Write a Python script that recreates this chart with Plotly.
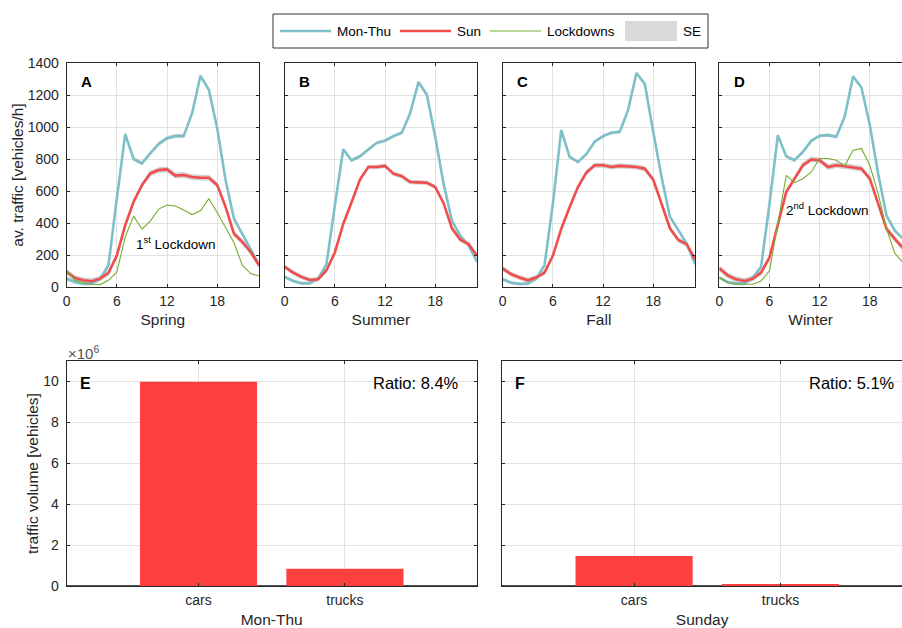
import plotly.graph_objects as go

W, H = 902, 628

hours = list(range(24))
seasons = ["Spring", "Summer", "Fall", "Winter"]
panel_letters = ["A", "B", "C", "D"]

# Mon-Thu average hourly traffic [vehicles/h]
mt_spring = [52, 31, 21, 21, 52, 136, 555, 955, 800, 773, 836, 894, 930, 944, 944, 1087, 1320, 1233, 993, 669, 428, 334, 240, 140]
mt_summer = [63, 38, 23, 23, 52, 143, 510, 861, 792, 817, 859, 901, 914, 943, 964, 1086, 1281, 1201, 939, 646, 415, 321, 258, 159]
mt_fall   = [48, 27, 19, 21, 52, 136, 520, 981, 813, 782, 830, 908, 943, 964, 970, 1107, 1337, 1268, 970, 687, 440, 352, 272, 143]
mt_winter = [59, 31, 21, 21, 59, 126, 520, 949, 817, 792, 845, 914, 945, 949, 939, 1065, 1316, 1247, 1012, 708, 446, 352, 300, 200]

# Sunday average hourly traffic [vehicles/h]
sun_spring = [94, 56, 42, 36, 52, 88, 198, 387, 533, 637, 710, 731, 735, 696, 700, 687, 683, 683, 637, 501, 334, 282, 219, 136]
sun_summer = [126, 90, 63, 44, 48, 105, 216, 394, 530, 671, 750, 750, 757, 708, 692, 656, 654, 652, 625, 524, 367, 296, 268, 195]
sun_fall   = [115, 80, 59, 42, 59, 90, 195, 363, 499, 625, 715, 761, 761, 750, 757, 755, 750, 740, 671, 520, 367, 294, 268, 174]
sun_winter = [117, 73, 48, 38, 52, 90, 184, 394, 593, 677, 761, 797, 792, 750, 761, 755, 746, 740, 677, 524, 363, 300, 247, 184]

# Lockdown Mon-Thu traffic [vehicles/h] (spring: 1st, winter: 2nd lockdown)
lock_spring = [104, 42, 25, 17, 15, 42, 94, 313, 443, 361, 412, 487, 512, 506, 481, 453, 476, 552, 466, 376, 278, 136, 84, 69]
lock_winter = [59, 27, 17, 17, 17, 38, 101, 394, 698, 652, 677, 719, 803, 803, 792, 757, 855, 866, 761, 583, 363, 210, 150, 120]

# standard error half-widths [vehicles/h]
se_mt = [12, 10, 10, 10]
se_sun = [18, 14, 16, 18]

mt_all = [mt_spring, mt_summer, mt_fall, mt_winter]
sun_all = [sun_spring, sun_summer, sun_fall, sun_winter]
lock_all = [lock_spring, None, None, lock_winter]
lock_labels = ["1<sup>st</sup> Lockdown", None, None, "2<sup>nd</sup> Lockdown"]

# Traffic volume [vehicles]
vehicle_types = ["cars", "trucks"]
vol_monthu = [9.98e6, 0.84e6]
vol_sunday = [1.47e6, 0.075e6]
ratios = ["Ratio: 8.4%", "Ratio: 5.1%"]
bar_xlabels = ["Mon-Thu", "Sunday"]
bar_letters = ["E", "F"]

C_MT = "#7DC0C8"
C_SUN = "#F24D4D"
C_LOCK = "#77AC30"
C_BAR = "#FF4040"
C_SE = "rgba(140,140,140,0.40)"
C_AX = "#262626"
C_GRID = "#E2E2E2"
FONT = "Liberation Sans, Arial, sans-serif"
TICK = 14
TITLE = 15.5


def fx(p):
    return p / W


def fy(p):
    return 1 - p / H


top_x = [(66.7, 259.0), (284.7, 477.0), (502.7, 695.0), (719.3, 902.0)]
top_y = (63.0, 287.0)
hr_px = (259.0 - 66.7) / 23.0
bot_x = [(66.7, 476.7), (502.3, 902.0)]
bot_y = (361.0, 586.0)
cat_px = (476.7 - 66.7) / 2.8

fig = go.Figure()
layout = dict(
    template="none",
    width=W, height=H, margin=dict(l=0, r=0, t=0, b=0, autoexpand=False),
    paper_bgcolor="white", plot_bgcolor="white", showlegend=False,
    font=dict(family=FONT, color=C_AX, size=13),
)

annotations = []
shapes = []

for i, s in enumerate(seasons):
    n = i + 1
    xa = "x" if n == 1 else f"x{n}"
    ya = "y" if n == 1 else f"y{n}"
    mt = mt_all[i]
    sun = sun_all[i]
    # SE bands
    for series, se in ((mt, se_mt[i]), (sun, se_sun[i])):
        fig.add_trace(go.Scatter(x=hours, y=[v - se for v in series], mode="lines",
                                 line=dict(width=0, color=C_SE), xaxis=xa, yaxis=ya,
                                 hoverinfo="skip"))
        fig.add_trace(go.Scatter(x=hours, y=[v + se for v in series], mode="lines",
                                 line=dict(width=0, color=C_SE), fill="tonexty",
                                 fillcolor=C_SE, xaxis=xa, yaxis=ya, hoverinfo="skip"))
    fig.add_trace(go.Scatter(x=hours, y=mt, mode="lines", line=dict(color=C_MT, width=2.6),
                             xaxis=xa, yaxis=ya, name="Mon-Thu"))
    fig.add_trace(go.Scatter(x=hours, y=sun, mode="lines", line=dict(color=C_SUN, width=2.6),
                             xaxis=xa, yaxis=ya, name="Sun"))
    if lock_all[i] is not None:
        fig.add_trace(go.Scatter(x=hours, y=lock_all[i], mode="lines",
                                 line=dict(color=C_LOCK, width=1.1),
                                 xaxis=xa, yaxis=ya, name="Lockdowns"))
    x0, x1 = top_x[i]
    xmax = (x1 - x0) / hr_px
    cut = x1 >= W
    layout[f"xaxis{'' if n == 1 else n}"] = dict(
        domain=[fx(x0), fx(x1)], range=[0, xmax], anchor=ya, automargin=False,
        tickvals=[0, 6, 12, 18], ticks="inside", ticklen=3, tickcolor=C_AX,
        showline=True, linecolor=C_AX, linewidth=1, mirror="ticks",
        showgrid=True, gridcolor=C_GRID, gridwidth=1, zeroline=False,
        tickfont=dict(size=TICK, color=C_AX), ticklabelstandoff=1,
        title=dict(text=s, font=dict(size=TITLE, color=C_AX), standoff=6),
    )
    ydict = dict(
        domain=[fy(top_y[1]), fy(top_y[0])], range=[0, 1400], anchor=xa, automargin=False,
        tickvals=list(range(0, 1401, 200)), ticks="inside", ticklen=3, tickcolor=C_AX,
        showline=True, linecolor=C_AX, linewidth=1,
        mirror=False if cut else "ticks",
        showgrid=True, gridcolor=C_GRID, gridwidth=1, zeroline=False,
        showticklabels=(n == 1), tickfont=dict(size=TICK, color=C_AX),
    )
    if n == 1:
        ydict["ticklabelstandoff"] = 4
        ydict["title"] = dict(text="av. traffic [vehicles/h]",
                              font=dict(size=TITLE, color=C_AX), standoff=0)
    layout[f"yaxis{'' if n == 1 else n}"] = ydict
    annotations.append(dict(text=f"<b>{panel_letters[i]}</b>", x=fx(x0 + 12.5), y=fy(81),
                            xref="paper", yref="paper", xanchor="left", yanchor="middle",
                            showarrow=False, font=dict(size=15, color="black")))

# lockdown labels
annotations.append(dict(text=lock_labels[0], x=fx(134), y=fy(243), xref="paper", yref="paper",
                        xanchor="left", yanchor="middle", showarrow=False,
                        font=dict(size=13.5, color="black")))
annotations.append(dict(text=lock_labels[3], x=fx(784), y=fy(209), xref="paper", yref="paper",
                        xanchor="left", yanchor="middle", showarrow=False,
                        font=dict(size=13.5, color="black")))

bar_vals = [vol_monthu, vol_sunday]
for j in range(2):
    n = 5 + j
    xa, ya = f"x{n}", f"y{n}"
    fig.add_trace(go.Bar(x=[1, 2], y=bar_vals[j], width=0.8, marker=dict(color=C_BAR, line=dict(width=0)),
                         xaxis=xa, yaxis=ya, name=bar_xlabels[j]))
    x0, x1 = bot_x[j]
    xmax = 0.1 + (x1 - x0) / cat_px
    cut = x1 >= W
    layout[f"xaxis{n}"] = dict(
        domain=[fx(x0), fx(x1)], range=[0.1, xmax], anchor=ya, automargin=False,
        tickvals=[1, 2], ticktext=vehicle_types, ticks="inside", ticklen=3, tickcolor=C_AX,
        showline=True, linecolor=C_AX, linewidth=1, mirror="ticks",
        showgrid=True, gridcolor=C_GRID, gridwidth=1, zeroline=False,
        tickfont=dict(size=TICK, color=C_AX), ticklabelstandoff=1,
        title=dict(text=bar_xlabels[j], font=dict(size=TITLE, color=C_AX), standoff=9),
    )
    ydict = dict(
        domain=[fy(bot_y[1]), fy(bot_y[0])], range=[0, 11e6], anchor=xa, automargin=False,
        tickvals=[0, 2e6, 4e6, 6e6, 8e6, 10e6], ticktext=["0", "2", "4", "6", "8", "10"],
        ticks="inside", ticklen=3, tickcolor=C_AX,
        showline=True, linecolor=C_AX, linewidth=1,
        mirror=False if cut else "ticks",
        showgrid=True, gridcolor=C_GRID, gridwidth=1,
        zeroline=True, zerolinecolor="#555555", zerolinewidth=2,
        showticklabels=(j == 0), tickfont=dict(size=TICK, color=C_AX),
    )
    if j == 0:
        ydict["ticklabelstandoff"] = 4
        ydict["title"] = dict(text="traffic volume [vehicles]",
                              font=dict(size=TITLE, color=C_AX), standoff=0)
    layout[f"yaxis{n}"] = ydict
    annotations.append(dict(text=f"<b>{bar_letters[j]}</b>", x=fx(x0 + 11), y=fy(383),
                            xref="paper", yref="paper", xanchor="left", yanchor="middle",
                            showarrow=False, font=dict(size=16, color="black")))
    annotations.append(dict(text=ratios[j], x=fx(x1 - 15.5 if not cut else 897), y=fy(383),
                            xref="paper", yref="paper", xanchor="right", yanchor="middle",
                            showarrow=False, font=dict(size=16.5, color="black")))

annotations.append(dict(text="×10<sup>6</sup>", x=fx(66), y=fy(352), xref="paper", yref="paper",
                        xanchor="left", yanchor="middle", showarrow=False,
                        font=dict(size=15, color="#555555")))

# manual legend
shapes.append(dict(type="rect", xref="paper", yref="paper", x0=fx(273), x1=fx(708),
                   y0=fy(48), y1=fy(14), line=dict(color="#333333", width=1), fillcolor="white"))
leg_items = [("Mon-Thu", C_MT, 2.6, 280), ("Sun", C_SUN, 2.6, 400), ("Lockdowns", C_LOCK, 1.2, 490)]
for name, col, w, lx in leg_items:
    shapes.append(dict(type="line", xref="paper", yref="paper", x0=fx(lx), x1=fx(lx + 51),
                       y0=fy(31), y1=fy(31), line=dict(color=col, width=w)))
    annotations.append(dict(text=name, x=fx(lx + 55), y=fy(31), xref="paper", yref="paper",
                            xanchor="left", yanchor="middle", showarrow=False,
                            font=dict(size=13.5, color="black")))
shapes.append(dict(type="rect", xref="paper", yref="paper", x0=fx(625), x1=fx(677),
                   y0=fy(41), y1=fy(21), line=dict(width=0), fillcolor="#D9D9D9"))
annotations.append(dict(text="SE", x=fx(681), y=fy(31), xref="paper", yref="paper",
                        xanchor="left", yanchor="middle", showarrow=False,
                        font=dict(size=13.5, color="black")))

layout["annotations"] = annotations
layout["shapes"] = shapes
fig.update_layout(**layout)
fig.write_html("out.html")
